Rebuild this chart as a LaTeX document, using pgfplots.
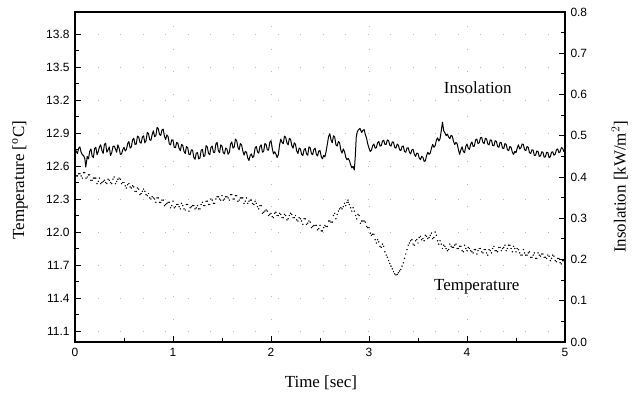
\documentclass[border=0pt]{standalone}
\usepackage{fontspec}
\setmainfont{Liberation Serif}
\setsansfont{Liberation Sans}
\usepackage{pgfplots}
\pgfplotsset{compat=1.18}
\begin{document}
\begin{tikzpicture}
\path[use as bounding box] (-75bp,-52bp) rectangle (566bp,342bp);
\begin{axis}[
  scale only axis, width=490bp, height=330bp,
  xmin=0, xmax=5, ymin=11.0, ymax=14.0,
  xtick={0,1,2,3,4,5}, minor x tick num=1,
  ytick={11.1,11.4,11.7,12.0,12.3,12.6,12.9,13.2,13.5,13.8}, minor y tick num=1,
  xtick pos=lower, ytick pos=left, tick align=inside,
  major tick length=6bp, minor tick length=4bp,
  every tick/.style={black, line width=0.9pt},
  axis line style={line width=1.1pt},
  grid=major, grid style={gray!55, line width=0.6pt, dash pattern=on 0.6pt off 22pt},
  /pgf/number format/assume math mode=true,
  tick label style={font=\sffamily\fontsize{12}{12}\selectfont},
  yticklabel style={/pgf/number format/fixed, /pgf/number format/fixed zerofill, /pgf/number format/precision=1},
  xlabel={Time [sec]}, ylabel={Temperature [$^{\mathrm{o}}$C]},
  label style={font=\fontsize{17}{17}\selectfont},
  xlabel style={at={(axis description cs:0.502,-0.124)}, anchor=center},
  ylabel style={at={(axis description cs:-0.112,0.49)}, anchor=center},
  xticklabel style={yshift=-3bp},
  yticklabel style={xshift=-2bp},
]
\addplot[only marks, mark=*, mark size=0.45pt, black] coordinates {
(0.000,12.55)(0.025,12.51)(0.050,12.53)(0.075,12.49)(0.100,12.54)(0.125,12.50)(0.150,12.52)(0.175,12.47)(0.200,12.49)(0.225,12.44)
(0.250,12.49)(0.275,12.45)(0.300,12.47)(0.325,12.44)(0.350,12.47)(0.375,12.44)(0.400,12.50)(0.425,12.46)(0.450,12.49)(0.475,12.44)
(0.500,12.45)(0.525,12.40)(0.550,12.44)(0.575,12.40)(0.600,12.41)(0.625,12.37)(0.650,12.39)(0.675,12.35)(0.700,12.39)(0.725,12.34)
(0.750,12.35)(0.775,12.30)(0.800,12.31)(0.825,12.27)(0.850,12.31)(0.875,12.27)(0.900,12.29)(0.925,12.25)(0.950,12.27)(0.975,12.22)
(1.000,12.28)(1.025,12.23)(1.050,12.25)(1.075,12.21)(1.100,12.24)(1.125,12.20)(1.150,12.25)(1.175,12.22)(1.200,12.24)(1.225,12.21)
(1.250,12.24)(1.275,12.21)(1.300,12.27)(1.325,12.24)(1.350,12.28)(1.375,12.25)(1.400,12.29)(1.425,12.26)(1.450,12.32)(1.475,12.30)
(1.500,12.33)(1.525,12.30)(1.550,12.32)(1.575,12.29)(1.600,12.34)(1.625,12.30)(1.650,12.33)(1.675,12.29)(1.700,12.31)(1.725,12.26)
(1.750,12.31)(1.775,12.28)(1.800,12.29)(1.825,12.25)(1.850,12.26)(1.875,12.21)(1.900,12.24)(1.925,12.18)(1.950,12.20)(1.975,12.15)
(2.000,12.17)(2.025,12.13)(2.050,12.18)(2.075,12.15)(2.100,12.16)(2.125,12.13)(2.150,12.15)(2.175,12.12)(2.200,12.17)(2.225,12.13)
(2.250,12.15)(2.275,12.10)(2.300,12.12)(2.325,12.07)(2.350,12.12)(2.375,12.08)(2.400,12.09)(2.425,12.05)(2.450,12.06)(2.475,12.02)
(2.500,12.06)(2.525,12.01)(2.550,12.06)(2.575,12.05)(2.600,12.10)(2.625,12.09)(2.650,12.17)(2.675,12.16)(2.700,12.21)(2.725,12.21)
(2.750,12.26)(2.775,12.27)(2.785,12.29)(2.800,12.25)(2.825,12.19)(2.850,12.19)(2.875,12.12)(2.900,12.15)(2.925,12.10)(2.950,12.10)
(2.975,12.05)(3.000,12.04)(3.025,11.97)(3.050,11.98)(3.075,11.90)(3.100,11.91)(3.125,11.86)(3.150,11.87)(3.175,11.79)(3.200,11.74)
(3.225,11.69)(3.250,11.64)(3.275,11.61)(3.300,11.63)(3.325,11.66)(3.350,11.72)(3.375,11.80)(3.400,11.88)(3.425,11.92)(3.450,11.89)
(3.475,11.92)(3.500,11.90)(3.525,11.96)(3.550,11.94)(3.575,11.97)(3.600,11.94)(3.625,11.97)(3.650,11.94)(3.675,12.00)(3.700,11.92)
(3.725,11.92)(3.750,11.85)(3.775,11.87)(3.800,11.83)(3.825,11.89)(3.850,11.86)(3.875,11.88)(3.900,11.85)(3.925,11.87)(3.950,11.83)
(3.975,11.88)(4.000,11.83)(4.025,11.85)(4.050,11.82)(4.075,11.84)(4.100,11.80)(4.125,11.85)(4.150,11.82)(4.175,11.84)(4.200,11.81)
(4.225,11.84)(4.250,11.81)(4.275,11.87)(4.300,11.83)(4.325,11.86)(4.350,11.83)(4.375,11.86)(4.400,11.83)(4.425,11.88)(4.450,11.85)
(4.475,11.87)(4.500,11.82)(4.525,11.84)(4.550,11.79)(4.575,11.84)(4.600,11.79)(4.625,11.81)(4.650,11.77)(4.675,11.79)(4.700,11.76)
(4.725,11.81)(4.750,11.78)(4.775,11.80)(4.800,11.77)(4.825,11.79)(4.850,11.74)(4.875,11.79)(4.900,11.74)(4.925,11.76)(4.950,11.72)
(4.975,11.74)(5.000,11.73)
};
\addplot[only marks, mark=*, mark size=0.45pt, black] coordinates {
(0.0125,12.51)(0.0375,12.53)(0.0625,12.51)(0.0875,12.54)(0.1125,12.49)(0.1375,12.52)(0.1625,12.47)(0.1875,12.49)(0.2125,12.49)(0.2375,12.46)
(0.2625,12.44)(0.2875,12.46)(0.3125,12.45)(0.3375,12.48)(0.3625,12.45)(0.3875,12.48)(0.4125,12.44)(0.4375,12.48)(0.4625,12.48)(0.4875,12.45)
(0.5125,12.42)(0.5375,12.43)(0.5625,12.41)(0.5875,12.42)(0.6125,12.37)(0.6375,12.40)(0.6625,12.34)(0.6875,12.37)(0.7125,12.37)(0.7375,12.33)
(0.7625,12.31)(0.7875,12.32)(0.8125,12.30)(0.8375,12.31)(0.8625,12.27)(0.8875,12.29)(0.9125,12.24)(0.9375,12.26)(0.9625,12.27)(0.9875,12.24)
(1.0125,12.22)(1.0375,12.25)(1.0625,12.23)(1.0875,12.26)(1.1125,12.21)(1.1375,12.25)(1.1625,12.19)(1.1875,12.23)(1.2125,12.24)(1.2375,12.22)
(1.2625,12.21)(1.2875,12.25)(1.3125,12.24)(1.3375,12.28)(1.3625,12.25)(1.3875,12.30)(1.4125,12.26)(1.4375,12.30)(1.4625,12.32)(1.4875,12.29)
(1.5125,12.29)(1.5375,12.32)(1.5625,12.31)(1.5875,12.34)(1.6125,12.30)(1.6375,12.33)(1.6625,12.28)(1.6875,12.31)(1.7125,12.31)(1.7375,12.28)
(1.7625,12.26)(1.7875,12.29)(1.8125,12.26)(1.8375,12.28)(1.8625,12.23)(1.8875,12.24)(1.9125,12.17)(1.9375,12.19)(1.9625,12.19)(1.9875,12.16)
(2.0125,12.14)(2.0375,12.17)(2.0625,12.15)(2.0875,12.17)(2.1125,12.13)(2.1375,12.16)(2.1625,12.11)(2.1875,12.15)(2.2125,12.16)(2.2375,12.13)
(2.2625,12.11)(2.2875,12.13)(2.3125,12.10)(2.3375,12.12)(2.3625,12.07)(2.3875,12.10)(2.4125,12.04)(2.4375,12.06)(2.4625,12.06)(2.4875,12.03)
(2.5125,12.01)(2.5375,12.04)(2.5625,12.05)(2.5875,12.10)(2.6125,12.09)(2.6375,12.15)(2.6625,12.12)(2.6875,12.19)(2.7125,12.22)(2.7375,12.23)
(2.7625,12.24)(2.7875,12.27)(2.8125,12.22)(2.8375,12.22)(2.8625,12.15)(2.8875,12.16)(2.9125,12.08)(2.9375,12.10)(2.9625,12.09)(2.9875,12.04)
(3.0125,11.99)(3.0375,11.98)(3.0625,11.93)(3.0875,11.93)(3.1125,11.87)(3.1375,11.89)(3.1625,11.82)(3.1875,11.77)(3.2125,11.715)(3.2375,11.665)
(3.2625,11.62)(3.2875,11.615)(3.3125,11.645)(3.3375,11.69)(3.3625,11.76)(3.3875,11.84)(3.4125,11.90)(3.4375,11.93)(3.4625,11.88)(3.4875,11.93)
(3.5125,11.95)(3.5375,11.93)(3.5625,11.92)(3.5875,11.96)(3.6125,11.95)(3.6375,11.99)(3.6625,11.95)(3.6875,11.97)(3.7125,11.89)(3.7375,11.89)
(3.7625,11.88)(3.7875,11.85)(3.8125,11.84)(3.8375,11.87)(3.8625,11.86)(3.8875,11.89)(3.9125,11.85)(3.9375,11.87)(3.9625,11.82)(3.9875,11.85)
(4.0125,11.86)(4.0375,11.83)(4.0625,11.81)(4.0875,11.84)(4.1125,11.83)(4.1375,11.85)(4.1625,11.81)(4.1875,11.84)(4.2125,11.79)(4.2375,11.83)
(4.2625,11.85)(4.2875,11.83)(4.3125,11.82)(4.3375,11.86)(4.3625,11.85)(4.3875,11.88)(4.4125,11.85)(4.4375,11.88)(4.4625,11.82)(4.4875,11.85)
(4.5125,11.85)(4.5375,11.81)(4.5625,11.79)(4.5875,11.81)(4.6125,11.79)(4.6375,11.82)(4.6625,11.77)(4.6875,11.81)(4.7125,11.76)(4.7375,11.79)
(4.7625,11.80)(4.7875,11.77)(4.8125,11.76)(4.8375,11.78)(4.8625,11.76)(4.8875,11.78)(4.9125,11.73)(4.9375,11.76)(4.9625,11.71)(4.9875,11.74)
};
\node[font=\fontsize{17}{17}\selectfont] at (axis cs:4.11,13.31) {Insolation};
\node[font=\fontsize{17}{17}\selectfont] at (axis cs:4.10,11.50) {Temperature};
\end{axis}
\begin{axis}[
  scale only axis, width=490bp, height=330bp,
  xmin=0, xmax=5, ymin=0, ymax=0.8,
  hide x axis, ytick pos=right, tick align=inside,
  ytick={0,0.1,0.2,0.3,0.4,0.5,0.6,0.7,0.8}, minor y tick num=1,
  major tick length=6bp, minor tick length=4bp,
  every tick/.style={black, line width=0.9pt},
  axis line style={line width=1.1pt},
  /pgf/number format/assume math mode=true,
  tick label style={font=\sffamily\fontsize{12}{12}\selectfont},
  yticklabel style={/pgf/number format/fixed, /pgf/number format/fixed zerofill, /pgf/number format/precision=1, xshift=2bp},
  ylabel={Insolation [kW/m$^{2}$]},
  label style={font=\fontsize{17}{17}\selectfont},
  ylabel style={at={(axis description cs:1.112,0.47)}, anchor=center},
]
\addplot[black, line width=1.0pt, line join=round] coordinates {
(0.000,0.471)(0.0125,0.462)(0.025,0.457)(0.0375,0.470)(0.050,0.473)(0.0625,0.460)(0.075,0.454)(0.0875,0.452)(0.100,0.445)(0.110,0.424)
(0.125,0.450)(0.1375,0.444)(0.150,0.462)(0.1625,0.468)(0.175,0.451)(0.1875,0.447)(0.200,0.469)(0.2125,0.472)(0.225,0.454)(0.2375,0.462)
(0.250,0.473)(0.2625,0.478)(0.275,0.464)(0.2875,0.457)(0.300,0.479)(0.3125,0.482)(0.325,0.460)(0.3375,0.466)(0.350,0.473)(0.3625,0.452)
(0.375,0.459)(0.3875,0.474)(0.400,0.475)(0.4125,0.468)(0.425,0.460)(0.4375,0.478)(0.450,0.470)(0.4625,0.455)(0.475,0.456)(0.4875,0.466)
(0.500,0.472)(0.5125,0.463)(0.525,0.467)(0.5375,0.481)(0.550,0.486)(0.5625,0.470)(0.575,0.473)(0.5875,0.490)(0.600,0.494)(0.6125,0.479)
(0.625,0.480)(0.6375,0.499)(0.650,0.497)(0.6625,0.484)(0.675,0.482)(0.6875,0.497)(0.700,0.500)(0.7125,0.483)(0.725,0.488)(0.7375,0.508)
(0.750,0.505)(0.7625,0.490)(0.775,0.489)(0.7875,0.503)(0.800,0.512)(0.8125,0.498)(0.825,0.500)(0.8375,0.520)(0.850,0.517)(0.8625,0.503)
(0.875,0.501)(0.8875,0.514)(0.900,0.516)(0.9125,0.499)(0.925,0.491)(0.9375,0.502)(0.950,0.498)(0.9625,0.480)(0.975,0.478)(0.9875,0.490)
(1.000,0.489)(1.0125,0.472)(1.025,0.471)(1.0375,0.484)(1.050,0.481)(1.0625,0.469)(1.075,0.464)(1.0875,0.479)(1.100,0.476)(1.1125,0.462)
(1.125,0.457)(1.1375,0.474)(1.150,0.471)(1.1625,0.455)(1.175,0.454)(1.1875,0.466)(1.200,0.465)(1.2125,0.447)(1.225,0.443)(1.2375,0.458)
(1.250,0.459)(1.2625,0.444)(1.275,0.446)(1.2875,0.465)(1.300,0.467)(1.3125,0.450)(1.325,0.451)(1.3375,0.476)(1.350,0.473)(1.3625,0.457)
(1.375,0.454)(1.3875,0.472)(1.400,0.475)(1.4125,0.460)(1.425,0.459)(1.4375,0.480)(1.450,0.484)(1.4625,0.464)(1.475,0.459)(1.4875,0.478)
(1.500,0.475)(1.5125,0.459)(1.525,0.456)(1.5375,0.470)(1.550,0.468)(1.5625,0.455)(1.575,0.460)(1.5875,0.480)(1.600,0.485)(1.6125,0.470)
(1.625,0.473)(1.6375,0.492)(1.650,0.488)(1.6625,0.472)(1.675,0.466)(1.6875,0.481)(1.700,0.478)(1.7125,0.463)(1.725,0.453)(1.7375,0.462)
(1.750,0.460)(1.7625,0.446)(1.775,0.440)(1.7875,0.452)(1.800,0.456)(1.8125,0.447)(1.825,0.451)(1.8375,0.470)(1.850,0.474)(1.8625,0.461)
(1.875,0.458)(1.8875,0.474)(1.900,0.478)(1.9125,0.460)(1.925,0.462)(1.9375,0.481)(1.950,0.479)(1.9625,0.466)(1.975,0.465)(1.9875,0.484)
(2.000,0.488)(2.0125,0.470)(2.025,0.456)(2.0375,0.461)(2.050,0.456)(2.0625,0.447)(2.075,0.454)(2.0875,0.478)(2.100,0.492)(2.1125,0.484)
(2.125,0.481)(2.1375,0.499)(2.150,0.496)(2.1625,0.483)(2.175,0.478)(2.1875,0.494)(2.200,0.491)(2.2125,0.476)(2.225,0.470)(2.2375,0.483)
(2.250,0.479)(2.2625,0.463)(2.275,0.457)(2.2875,0.470)(2.300,0.468)(2.3125,0.455)(2.325,0.452)(2.3375,0.466)(2.350,0.469)(2.3625,0.456)
(2.375,0.453)(2.3875,0.473)(2.400,0.471)(2.4125,0.457)(2.425,0.454)(2.4375,0.467)(2.450,0.470)(2.4625,0.455)(2.475,0.451)(2.4875,0.463)
(2.500,0.464)(2.5125,0.450)(2.525,0.444)(2.5375,0.452)(2.550,0.449)(2.5625,0.462)(2.575,0.480)(2.5875,0.498)(2.600,0.505)(2.6125,0.490)
(2.625,0.483)(2.6375,0.500)(2.650,0.497)(2.6625,0.478)(2.675,0.475)(2.6875,0.486)(2.700,0.483)(2.7125,0.465)(2.725,0.458)(2.7375,0.468)
(2.750,0.462)(2.7625,0.448)(2.775,0.442)(2.7875,0.445)(2.800,0.440)(2.8125,0.430)(2.825,0.422)(2.8375,0.426)(2.850,0.417)(2.860,0.450)
(2.870,0.497)(2.880,0.509)(2.890,0.514)(2.9075,0.518)(2.925,0.508)(2.9375,0.513)(2.950,0.515)(2.9625,0.503)(2.975,0.494)(2.9875,0.480)
(3.000,0.470)(3.0125,0.462)(3.025,0.465)(3.0375,0.476)(3.050,0.480)(3.0625,0.470)(3.075,0.471)(3.0875,0.483)(3.100,0.486)(3.1125,0.475)
(3.125,0.476)(3.1375,0.487)(3.150,0.489)(3.1625,0.479)(3.175,0.479)(3.1875,0.490)(3.200,0.488)(3.2125,0.477)(3.225,0.475)(3.2375,0.485)
(3.250,0.484)(3.2625,0.472)(3.275,0.470)(3.2875,0.480)(3.300,0.477)(3.3125,0.466)(3.325,0.464)(3.3375,0.474)(3.350,0.475)(3.3625,0.462)
(3.375,0.460)(3.3875,0.470)(3.400,0.471)(3.4125,0.460)(3.425,0.456)(3.4375,0.466)(3.450,0.467)(3.4625,0.455)(3.475,0.450)(3.4875,0.458)
(3.500,0.457)(3.5125,0.446)(3.525,0.442)(3.5375,0.450)(3.550,0.448)(3.5625,0.438)(3.575,0.439)(3.5875,0.452)(3.600,0.460)(3.6125,0.455)
(3.625,0.458)(3.6375,0.470)(3.650,0.479)(3.6625,0.472)(3.675,0.476)(3.6875,0.489)(3.700,0.495)(3.7125,0.487)(3.725,0.493)(3.7375,0.512)
(3.750,0.533)(3.7625,0.512)(3.775,0.507)(3.7875,0.500)(3.800,0.504)(3.8125,0.497)(3.825,0.493)(3.8375,0.501)(3.850,0.499)(3.8625,0.486)
(3.875,0.479)(3.8875,0.484)(3.900,0.480)(3.9125,0.466)(3.925,0.455)(3.9375,0.466)(3.950,0.473)(3.9625,0.462)(3.975,0.459)(3.9875,0.474)
(4.000,0.480)(4.0125,0.470)(4.025,0.467)(4.0375,0.480)(4.050,0.485)(4.0625,0.474)(4.075,0.475)(4.0875,0.490)(4.100,0.492)(4.1125,0.481)
(4.125,0.483)(4.1375,0.495)(4.150,0.496)(4.1625,0.484)(4.175,0.481)(4.1875,0.494)(4.200,0.492)(4.2125,0.480)(4.225,0.478)(4.2375,0.490)
(4.250,0.489)(4.2625,0.476)(4.275,0.476)(4.2875,0.488)(4.300,0.486)(4.3125,0.474)(4.325,0.472)(4.3375,0.484)(4.350,0.483)(4.3625,0.470)
(4.375,0.469)(4.3875,0.481)(4.400,0.479)(4.4125,0.466)(4.425,0.464)(4.4375,0.474)(4.450,0.472)(4.4625,0.460)(4.475,0.455)(4.4875,0.462)
(4.500,0.459)(4.5125,0.470)(4.525,0.478)(4.5375,0.468)(4.550,0.471)(4.5625,0.480)(4.575,0.479)(4.5875,0.466)(4.600,0.464)(4.6125,0.474)
(4.625,0.472)(4.6375,0.459)(4.650,0.457)(4.6625,0.466)(4.675,0.465)(4.6875,0.452)(4.700,0.453)(4.7125,0.463)(4.725,0.462)(4.7375,0.450)
(4.750,0.451)(4.7625,0.461)(4.775,0.460)(4.7875,0.448)(4.800,0.449)(4.8125,0.460)(4.825,0.459)(4.8375,0.447)(4.850,0.449)(4.8625,0.460)
(4.875,0.461)(4.8875,0.453)(4.900,0.455)(4.9125,0.466)(4.925,0.468)(4.9375,0.459)(4.950,0.461)(4.9625,0.471)(4.975,0.470)(4.9875,0.462)
(5.000,0.465)
};
\end{axis}
\end{tikzpicture}
\end{document}
